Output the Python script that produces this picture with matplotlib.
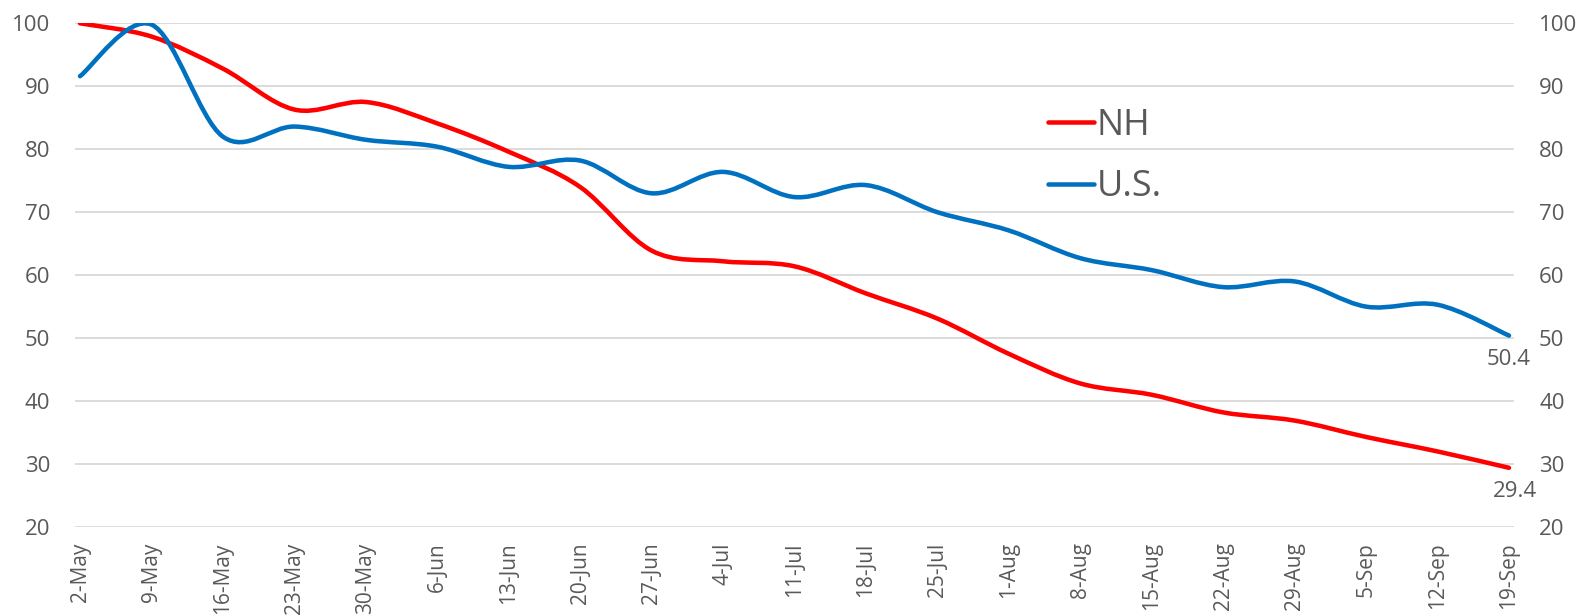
import matplotlib
matplotlib.use("Agg")
import matplotlib.pyplot as plt
from matplotlib.path import Path
from matplotlib.patches import PathPatch
from matplotlib.lines import Line2D

plt.rcParams['font.family'] = ['Open Sans', 'DejaVu Sans']

# weekly dates
weeks = ['2-May', '9-May', '16-May', '23-May', '30-May', '6-Jun', '13-Jun',
         '20-Jun', '27-Jun', '4-Jul', '11-Jul', '18-Jul', '25-Jul', '1-Aug',
         '8-Aug', '15-Aug', '22-Aug', '29-Aug', '5-Sep', '12-Sep', '19-Sep']

nh = [100, 97.9, 92.8, 86.3, 87.5, 84.1, 79.6, 74.0, 63.9, 62.2, 61.4,
      57.1, 53.1, 47.5, 42.8, 41.0, 38.2, 36.9, 34.3, 32.0, 29.4]
us = [91.6, 99.8, 82.0, 83.6, 81.5, 80.4, 77.2, 78.2, 73.0, 76.4, 72.4,
      74.3, 70.0, 67.1, 62.7, 60.8, 58.1, 59.0, 55.0, 55.3, 50.4]

yticks = [20, 30, 40, 50, 60, 70, 80, 90, 100]

GRAY = '#595959'
RED = '#FF0000'
BLUE = '#0070C0'


def smooth_path(xs, ys):
    # excel-style smoothed line: bezier segments, tangent = (p[i+1]-p[i-1])/6
    pts = list(zip(xs, ys))
    n = len(pts)
    verts = [pts[0]]
    codes = [Path.MOVETO]
    for i in range(n - 1):
        p0 = pts[max(i - 1, 0)]
        p1 = pts[i]
        p2 = pts[i + 1]
        p3 = pts[min(i + 2, n - 1)]
        c1 = (p1[0] + (p2[0] - p0[0]) / 6, p1[1] + (p2[1] - p0[1]) / 6)
        c2 = (p2[0] - (p3[0] - p1[0]) / 6, p2[1] - (p3[1] - p1[1]) / 6)
        verts += [c1, c2, p2]
        codes += [Path.CURVE4] * 3
    return Path(verts, codes)


fig = plt.figure(figsize=(15.85, 6.16), dpi=100)
ax = fig.add_axes([75 / 1585, (616 - 527) / 616, (1514 - 75) / 1585, (527 - 23.3) / 616])

x = list(range(len(weeks)))
for vals, col in [(nh, RED), (us, BLUE)]:
    ax.add_patch(PathPatch(smooth_path(x, vals), facecolor='none', edgecolor=col,
                           lw=3.25, capstyle='round', joinstyle='round', zorder=3))

ax.set_xlim(-0.07, 20.07)
ax.set_ylim(20, 100)
ax.set_yticks(yticks)
ax.set_xticks(x)
ax.set_xticklabels(weeks, rotation=90, fontsize=15, color=GRAY)
ax.grid(axis='y', color='#D9D9D9', lw=1.3)
ax.set_axisbelow(True)
for s in ax.spines.values():
    s.set_visible(False)
ax.tick_params(axis='x', length=0, pad=11)
ax.tick_params(axis='y', length=0, pad=18, labelsize=16, labelcolor=GRAY,
               labelright=True)

# end labels
ax.annotate(f'{us[-1]:.1f}', (x[-1], us[-1]), xytext=(0, -17), textcoords='offset points',
            ha='center', va='center', fontsize=16, color=GRAY)
ax.annotate(f'{nh[-1]:.1f}', (x[-1], nh[-1]), xytext=(4, -17), textcoords='offset points',
            ha='center', va='center', fontsize=16, color=GRAY)

handles = [Line2D([], [], color=RED, lw=3.25, solid_capstyle='round'),
           Line2D([], [], color=BLUE, lw=3.25, solid_capstyle='round')]
leg = fig.legend(handles, ['NH', 'U.S.'], loc='upper left',
                 bbox_to_anchor=(1030 / 1585, 1 - 90 / 616), frameon=False,
                 fontsize=26, handlelength=1.27, handletextpad=0.08,
                 labelspacing=0.7, borderpad=0)
for t in leg.get_texts():
    t.set_color(GRAY)

fig.savefig('out.png', dpi=100)
